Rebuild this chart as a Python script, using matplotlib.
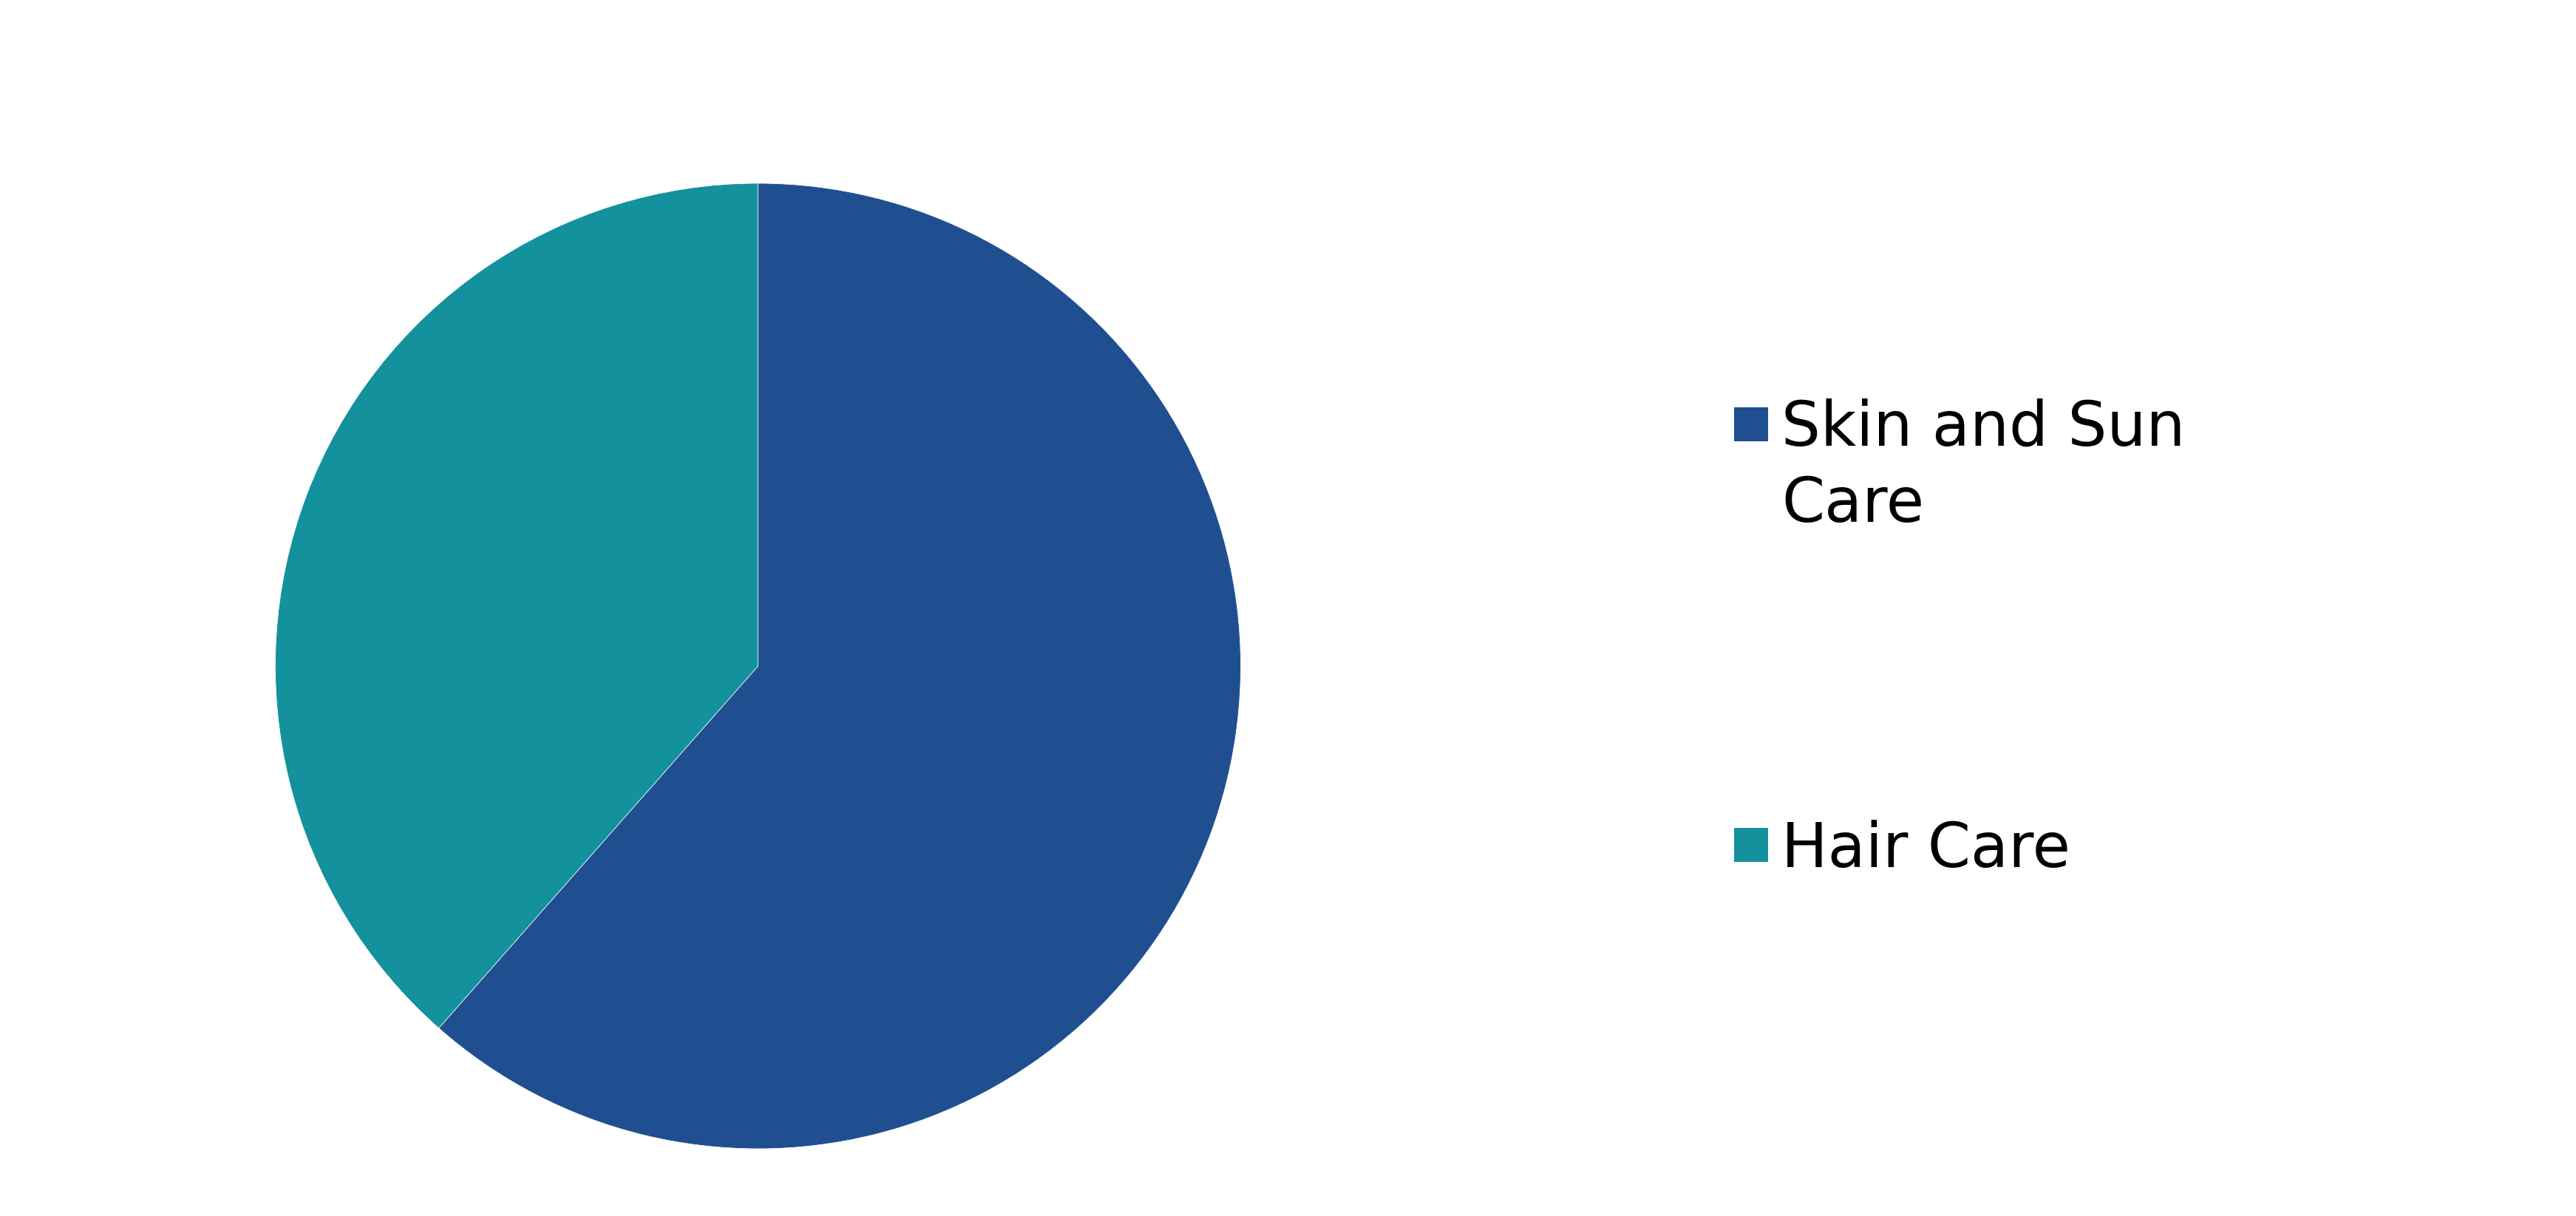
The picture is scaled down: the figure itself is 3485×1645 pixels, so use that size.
import matplotlib.pyplot as plt
from matplotlib.patches import Rectangle

# donnees
categories = ["Skin and Sun\nCare", "Hair Care"]
parts = [61.5, 38.5]
couleurs = ["#1F4F91", "#13919D"]

W, H = 3485, 1645
fig = plt.figure(figsize=(W/100, H/100), dpi=100)

## camembert
cx, cy, r = 1025.5, 744, 653  # pixels (origine en bas)
ax = fig.add_axes([(cx-r)/W, (cy-r)/H, 2*r/W, 2*r/H])
ax.pie(parts, colors=couleurs, startangle=90, counterclock=False,
       wedgeprops=dict(edgecolor="white", linewidth=0.5))
ax.set_xlim(-1, 1)
ax.set_ylim(-1, 1)
ax.set_aspect("equal")
ax.axis("off")

## legende a la main (carre aligne sur la 1ere ligne)
lx_carre, lx_texte = 2346, 2410
cote = 46
bases = [1042, 472]      # ligne de base du texte
bas_carres = [1048, 479]
interligne = 103
for lab, c, b, bc in zip(categories, couleurs, bases, bas_carres):
    fig.patches.append(Rectangle((lx_carre/W, bc/H), cote/W, cote/H,
                                 transform=fig.transFigure, facecolor=c,
                                 edgecolor="none"))
    lignes = lab.split("\n")
    for k, t in enumerate(lignes):
        fig.text(lx_texte/W, (b - interligne*k)/H, t, fontsize=60, color="black",
                 va="baseline", ha="left", family="DejaVu Sans")

fig.savefig("out.png", dpi=100, facecolor="white")
